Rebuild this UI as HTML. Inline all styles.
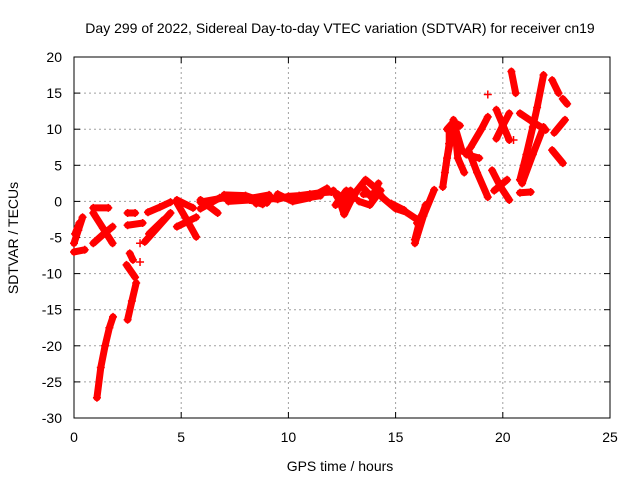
<!DOCTYPE html>
<html><head><meta charset="utf-8"><style>
body{margin:0;background:#fff}
svg{display:block;font-family:"Liberation Sans",sans-serif;font-size:14px}
</style></head><body>
<svg id="chart" width="640" height="480" viewBox="0 0 640 480">
<rect width="640" height="480" fill="#fff"/>
<text x="340" y="33" text-anchor="middle">Day 299 of 2022, Sidereal Day-to-day VTEC variation (SDTVAR) for receiver cn19</text>
<g id="grid"></g>
<g id="axes"></g>
<g id="marks"></g>
<text x="340" y="471" text-anchor="middle">GPS time / hours</text>
<text transform="translate(18,238) rotate(-90)" text-anchor="middle">SDTVAR / TECUs</text>
</svg>
<script>
const xTicks=[0,5,10,15,20,25];
const yTicks=[20,15,10,5,0,-5,-10,-15,-20,-25,-30];
const tracks=[
[[0,-5.8],[0.2,-4],[0.4,-2.2]],
[[0.05,-4.5],[0.25,-3]],
[[0,-7],[0.5,-6.7]],
[[0.9,-1.6],[1.35,-3.7],[1.8,-5.8]],
[[0.9,-5.8],[1.35,-4.6],[1.8,-3.5]],
[[0.9,-0.9],[1.6,-0.9]],
[[1.07,-27.2],[1.25,-23],[1.45,-20],[1.65,-17.5],[1.82,-16]],
[[2.5,-16.4],[2.7,-13.8],[2.9,-11.3]],
[[2.45,-8.8],[2.85,-10.5]],
[[2.6,-7.2],[2.75,-8.1]],
[[3.08,-8.4]],[[3.08,-5.8]],
[[2.5,-1.6],[2.85,-1.6]],
[[2.5,-3.3],[3.2,-3.0]],
[[3.3,-5.6],[3.9,-3.6],[4.5,-1.6]],
[[3.5,-4.5],[4.2,-2.5]],
[[3.45,-1.5],[4,-0.8],[4.5,-0.1]],
[[4.8,0.2],[5.55,-0.9]],
[[4.8,-0.2],[5.25,-2.5],[5.7,-4.9]],
[[4.8,-3.5],[5.7,-2.2]],
[[5.9,0.2],[6.7,-1.6]],
[[5.9,-1],[6.8,0.5]],
[[5.9,-0.1],[7,0.5],[8,0.3],[9.1,0.9]],
[[7,0.9],[8,0.8],[9,-0.2]],
[[7.2,0],[8.2,0.2],[8.8,-0.4]],
[[8.2,0.3],[9,0.5],[9.5,0.3],[10,0.7],[10.5,0.8],[11,1],[11.5,1.2],[12,1.3]],
[[8.5,-0.3],[9.5,0.6],[10.5,0.3],[11.5,0.8]],
[[9.5,1],[10.2,0],[11,0.5],[11.8,1.8]],
[[12.1,1.5],[12.4,0],[12.6,-1.8],[12.9,0],[13.2,1.5]],
[[12.2,-0.5],[12.7,1.5],[13.1,0.5]],
[[12.3,1],[12.6,-0.5],[12.9,1.5]],
[[13.2,1.5],[13.6,3],[14,2],[14.4,0.5]],
[[13.3,0],[13.8,-0.5],[14.3,1.5]],
[[13.5,1],[14.1,1]],
[[13.4,2.2],[13.9,0.5],[14.2,2.5]],
[[14.4,0.5],[15,-1],[15.5,-1.5],[16,-2.5]],
[[14.8,-0.3],[15.4,-1.2]],
[[15.9,-5.3],[16.1,-3],[16.4,-0.5]],
[[16,-3],[16.3,-1.5]],
[[15.9,-5.8],[16.3,-2],[16.8,1.6]],
[[17.2,2],[17.4,6],[17.6,9],[17.7,11.3]],
[[17.3,4],[17.5,8],[17.5,10]],
[[17.4,10],[17.7,11],[18,10.5]],
[[17.5,8],[17.8,10],[18.1,7]],
[[17.8,9],[17.9,6],[18.2,4]],
[[19.3,11.7],[19,10],[18.5,7.5]],
[[18.4,7.1],[18.8,4],[19.3,0.6]],
[[18.3,6.5],[18.9,6]],
[[19.7,12.7],[20,10.6],[20.3,8.5]],
[[19.7,8.7],[20,10.5],[20.3,12.2]],
[[19.5,4.3],[19.9,2],[20.3,0.2]],
[[19.6,1.5],[20.2,3]],
[[20.4,18],[20.6,15]],
[[21.9,17.5],[21.6,13],[21.4,10.3],[21.1,6.5],[20.8,3]],
[[21.9,10.3],[21.4,6.5],[20.9,2.5]],
[[20.8,12.2],[21.4,11],[22,9.9]],
[[22.3,16.8],[22.6,15]],
[[22.8,14.2],[23,13.5]],
[[22.9,11.3],[22.4,9.5]],
[[22.3,7.1],[22.8,5.3]],
[[20.8,1.2],[21.3,1.3]],
[[19.3,14.8]],[[20.5,8.5]]
];
const L=74,R=610,T=57,B=418;
const xs=v=>L+(v-0)/25*(R-L);
const ys=v=>B-(v+30)/50*(B-T);
const NS='http://www.w3.org/2000/svg';
function mk(tag,attrs,parent){const e=document.createElementNS(NS,tag);for(const k in attrs)e.setAttribute(k,attrs[k]);parent.appendChild(e);return e;}
const grid=document.getElementById('grid'),axes=document.getElementById('axes'),marks=document.getElementById('marks');
xTicks.forEach(t=>{
 const x=xs(t);
 if(t>0&&t<25){const g=mk('line',{x1:x,y1:T,x2:x,y2:B,stroke:'#a0a0a0','stroke-dasharray':'2,3'},grid);
 
 }
 mk('line',{x1:x,y1:B,x2:x,y2:B-6,stroke:'#000'},axes);mk('line',{x1:x,y1:T,x2:x,y2:T+6,stroke:'#000'},axes);
 const tx=mk('text',{x:x,y:B+24,'text-anchor':'middle'},axes);tx.textContent=t;
 
 
});
yTicks.forEach(t=>{
 const y=ys(t);
 if(t>-30&&t<20){const g=mk('line',{x1:L,y1:y,x2:R,y2:y,stroke:'#a0a0a0','stroke-dasharray':'2,3'},grid);
 
 }
 mk('line',{x1:L,y1:y,x2:L+6,y2:y,stroke:'#000'},axes);mk('line',{x1:R,y1:y,x2:R-6,y2:y,stroke:'#000'},axes);
 const tx=mk('text',{x:62,y:y+5,'text-anchor':'end'},axes);tx.textContent=t;
 
 
});
mk('rect',{x:L,y:T,width:R-L,height:B-T,fill:'none',stroke:'#000'},axes);
tracks.forEach(tr=>{
 const g=mk('g',{},marks);
 
 
 if(tr.length>1)mk('polyline',{points:tr.map(p=>xs(p[0])+','+ys(p[1])).join(' '),fill:'none',stroke:'#f00','stroke-width':7,'stroke-linejoin':'round','stroke-linecap':'round'},g);
 tr.forEach(p=>{const x=xs(p[0]),y=ys(p[1]);
  mk('path',{d:`M${x-4},${y}H${x+4}M${x},${y-4}V${y+4}`,stroke:'#f00','stroke-width':1.5},g);});
});
</script>
</body></html>
